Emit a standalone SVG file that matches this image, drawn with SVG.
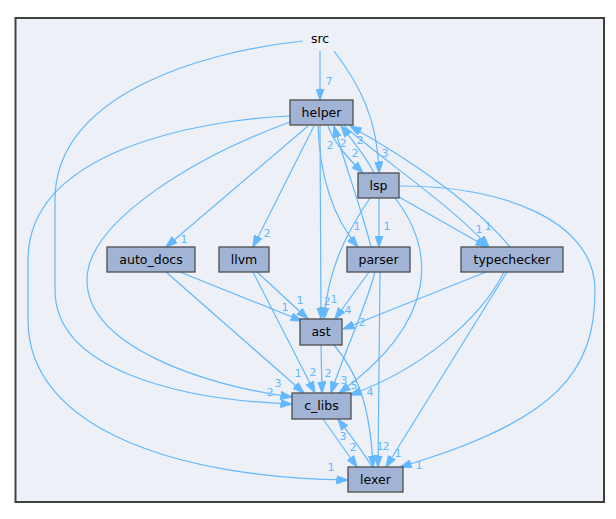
<svg xmlns="http://www.w3.org/2000/svg" width="616" height="519" viewBox="0 0 616 519">
<style>
.n rect{fill:#a2b4d6;stroke:#4d4d4d;stroke-width:1.3}
.n text,.src{font-family:"DejaVu Sans",sans-serif;font-size:12.5px;fill:#000;text-anchor:middle}
.e path{fill:none;stroke:#63b8ff;stroke-width:1.2;marker-end:url(#a)}
.e text{font-family:"DejaVu Sans",sans-serif;font-size:11px;fill:#63b8ff;text-anchor:middle}
</style>
<defs>
<marker id="a" markerWidth="12" markerHeight="9" refX="11.5" refY="4.5" orient="auto" markerUnits="userSpaceOnUse">
<path d="M0,0.3 L12,4.5 L0,8.7 z" fill="#63b8ff" stroke="#63b8ff" stroke-width="0.8"/>
</marker>
</defs>
<rect x="0" y="0" width="616" height="519" fill="#fff"/>
<rect x="15.5" y="18" width="588.5" height="484" fill="#edf0f7" stroke="#404040" stroke-width="2"/>
<text class="src" x="320" y="43">src</text>
<g class="e" id="edges">
<path d="M320,51 L320,100"/><text x="329" y="85">7</text>
<path d="M334,51 C360,85 378,120 379,173"/><text x="385" y="157">3</text>
<path d="M303,41 C200,52 55,95 55,200 L55,290 C55,370 180,400 292,404"/><text x="270" y="396">2</text>
<path d="M290,116 C200,120 28,150 28,260 L28,320 C28,430 180,478 348,480"/><text x="331" y="471">1</text>
<path d="M290,122 C200,155 87,220 87,280 C87,345 200,385 292,397"/><text x="278" y="387">3</text>
<path d="M308,126 L166,247"/><text x="184" y="243">1</text>
<path d="M314,126 L253,247"/><text x="267" y="237">2</text>
<path d="M320,126 L321,319"/><text x="327" y="305">2</text>
<path d="M370,198 C345,235 328,270 324,319"/><text x="334" y="303">1</text>
<path d="M369,272 L335,319"/><text x="348" y="314">4</text>
<path d="M180,272 L302,321"/><text x="285" y="311">1</text>
<path d="M257,272 L308,319"/><text x="300" y="304">1</text>
<path d="M486,272 L343,329"/><text x="362" y="326">2</text>
<path d="M318,126 C320,180 335,220 358,247"/><text x="357" y="230">1</text>
<path d="M379,198 L379,247"/><text x="387" y="230">1</text>
<path d="M371,247 C362,210 345,165 334,126"/><text x="330" y="149">2</text>
<path d="M374,173 C365,155 352,140 341,126"/><text x="343" y="147">2</text>
<path d="M510,247 C480,210 420,165 350,126"/><text x="360" y="144">2</text>
<path d="M328,126 C335,145 350,160 363,173"/><text x="355" y="157">2</text>
<path d="M344,126 C390,165 450,205 489,247"/><text x="479" y="233">1</text>
<path d="M399,197 L487,247"/><text x="488" y="230">1</text>
<path d="M399,186 C500,185 595,220 595,290 C595,370 560,420 400,467"/><text x="419" y="469">1</text>
<path d="M395,198 C435,250 440,320 339,393"/><text x="354" y="389">5</text>
<path d="M504,272 C480,320 420,370 350,395"/><text x="370" y="396">4</text>
<path d="M375,272 C365,310 345,350 331,393"/><text x="344" y="384">3</text>
<path d="M166,272 L304,393"/><text x="298" y="377">1</text>
<path d="M253,272 L315,393"/><text x="313" y="376">2</text>
<path d="M321,345 L322,393"/><text x="328" y="377">2</text>
<path d="M334,345 C355,370 370,400 373,467"/><text x="386" y="450">2</text>
<path d="M380,272 L378,467"/><text x="380" y="450">1</text>
<path d="M507,272 L386,467"/><text x="398" y="457">1</text>
<path d="M323,419 L357,467"/><text x="353" y="451">2</text>
<path d="M372,467 C362,450 350,435 338,419"/><text x="343" y="440">3</text>
</g>
<g class="n" id="helper"><rect x="290" y="100" width="63" height="25"/><text x="321.5" y="117">helper</text></g>
<g class="n" id="lsp"><rect x="358" y="173" width="41" height="25"/><text x="378.5" y="190">lsp</text></g>
<g class="n" id="auto_docs"><rect x="107" y="247" width="88" height="25"/><text x="151" y="264">auto_docs</text></g>
<g class="n" id="llvm"><rect x="219" y="247" width="50" height="25"/><text x="244" y="264">llvm</text></g>
<g class="n" id="parser"><rect x="347" y="247" width="63" height="25"/><text x="378.5" y="264">parser</text></g>
<g class="n" id="typechecker"><rect x="461" y="247" width="102" height="25"/><text x="512" y="264">typechecker</text></g>
<g class="n" id="ast"><rect x="300" y="319" width="42" height="26"/><text x="321" y="336">ast</text></g>
<g class="n" id="c_libs"><rect x="292" y="393" width="59" height="26"/><text x="321.5" y="410">c_libs</text></g>
<g class="n" id="lexer"><rect x="348" y="467" width="55" height="25"/><text x="375.5" y="484">lexer</text></g>
</svg>
